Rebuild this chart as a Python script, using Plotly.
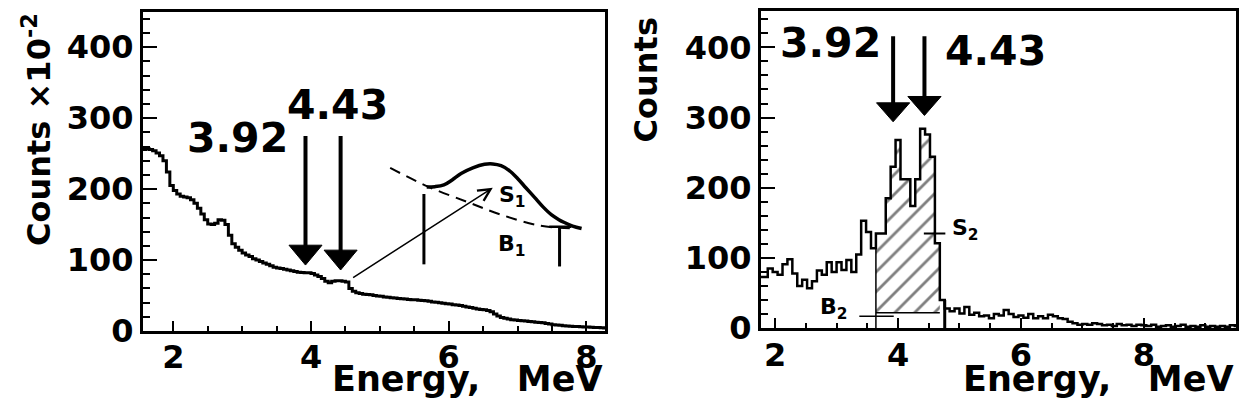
import numpy as np
import plotly.graph_objects as go

# ---------------- data ----------------
# Left panel: spectrum in units of 10^2 counts, bins of 0.05 MeV from 1.55 MeV
left_bin_start = 1.55
left_bin_width = 0.05
left_counts = [256, 257, 256, 254, 251, 247, 240, 224, 205, 198,
               193, 190, 189, 188, 185, 180, 173, 165, 157, 151,
               150, 152, 157, 156, 150, 135, 123, 118, 114, 110,
               107, 105, 102, 100, 98, 96, 94, 92, 90, 89,
               88, 87, 86, 85, 84, 83, 82.5, 82, 82, 81,
               79, 77, 74, 70, 68, 70, 71, 71, 70, 69,
               60, 56, 54, 53, 52, 51.5, 51, 50, 49.5, 49,
               48, 47.5, 47, 46.5, 46, 45.5, 45, 44.5, 44, 44,
               43.5, 43, 42.5, 42, 41, 40.5, 40, 39, 38.5, 38,
               37, 36.5, 36, 35, 34, 33, 32, 31, 30.5, 30,
               29, 27, 24, 21, 19, 18, 17, 16, 15.5, 15,
               14.5, 14, 13.5, 13, 12.5, 12, 11.5, 10.5, 10, 9,
               8.5, 8, 7.5, 7, 6.8, 6.5, 6.2, 6, 5.7, 5.5,
               5.2, 5, 4.8, 4.5, 4.2]

# Right panel: coincidence spectrum (counts), bins of 0.08 MeV from 1.72 MeV
right_bin_start = 1.72
right_bin_width = 0.08
right_counts = [73, 73, 85, 80, 76, 91, 98, 78, 60, 69,
                57, 67, 82, 76, 94, 80, 94, 83, 97, 80,
                105, 153, 137, 114, 135, 135, 185, 230, 268, 212,
                212, 174, 212, 284, 276, 244, 121, 40, 28, 24,
                28, 21, 30, 19, 22, 17, 18, 14, 20, 18,
                26, 20, 16, 18, 15, 20, 14, 17, 14, 19,
                17, 14, 13, 9, 7, 5, 6, 5, 7, 6,
                4, 5, 3, 6, 4, 5, 3, 5, 4, 3,
                5, 2, 3, 4, 2, 3, 5, 2, 3, 2,
                4, 2, 3, 2, 3, 2, 4, 3]

peak_energies = [3.92, 4.43]
peak_labels = ["3.92", "4.43"]

# inset sketch in left panel (peak S1 over background B1)
inset_peak_E = [5.68, 5.80, 5.93, 6.05, 6.18, 6.35, 6.52, 6.64, 6.76, 6.88,
                7.00, 7.12, 7.25, 7.37, 7.49, 7.60, 7.68, 7.80, 7.93]
inset_peak_counts = [203, 203.5, 206, 213, 222, 230, 235, 235.5, 233, 226,
                     215, 202, 188, 175, 164, 157, 153, 148, 144.6]
inset_bkg_E = [5.15, 5.69, 6.28, 6.76, 7.30, 7.78]
inset_bkg_counts = [230, 204, 181.6, 164, 149, 144.6]
s1_window = [5.64, 7.61]
s1_window_low = [94, 91]
s1_window_high = [193, 147]

# right panel S2/B2 window
s2_window = [3.64, 4.68]
s2_marker_end = 4.76
b2_level = 22
b2_marker = [3.37, 3.93, 17]
s2_marker = [4.42, 4.77, 135]

FONT = "DejaVu Sans"
W, H = 1247, 419              # browser window
OFF = 8                       # default margin of the html body
FW, FH = W - 2 * OFF, H - 2 * OFF   # figure fits the window without scrolling


def px_x(p):
    return (p - OFF) / FW


def px_y(p):
    return (FH - (p - OFF)) / FH


fig = go.Figure()


def steps(start, width, counts):
    edges = np.round(start + width * np.arange(len(counts) + 1), 4)
    ys = list(counts) + [counts[-1]]
    return edges, ys


def line(xa, ya, xs, ys, width, dash=None, shape="linear"):
    fig.add_trace(go.Scatter(x=xs, y=ys, mode="lines",
                             line=dict(color="black", width=width, dash=dash, shape=shape),
                             xaxis=xa, yaxis=ya, hoverinfo="skip"))


# ---- left histogram
le, ly = steps(left_bin_start, left_bin_width, left_counts)
line("x", "y", le, ly, 3, shape="hv")

# ---- right: hatched S2 region
re_, ry = steps(right_bin_start, right_bin_width, right_counts)
i0 = int(round((s2_window[0] - right_bin_start) / right_bin_width))
i1 = int(round((s2_window[1] - right_bin_start) / right_bin_width))
hx, hy = [s2_window[0]], [b2_level]
for i in range(i0, i1):
    hx += [re_[i], re_[i + 1]]
    hy += [right_counts[i], right_counts[i]]
hx += [s2_window[1], s2_window[0]]
hy += [b2_level, b2_level]
fig.add_trace(go.Scatter(x=hx, y=hy, mode="lines", fill="toself", line=dict(width=0, color="black"),
                         fillcolor="white",
                         fillpattern=dict(shape="/", size=14, solidity=0.2, fgcolor="black", bgcolor="white"),
                         xaxis="x2", yaxis="y2", hoverinfo="skip"))
line("x2", "y2", [s2_window[0], s2_window[1]], [b2_level, b2_level], 1.5)
line("x2", "y2", [s2_window[0], s2_window[0]], [0, right_counts[i0 - 1]], 1.5)
line("x2", "y2", [s2_marker_end, s2_marker_end], [0, right_counts[i1]], 3)
line("x2", "y2", b2_marker[:2], [b2_marker[2]] * 2, 1.5)
line("x2", "y2", s2_marker[:2], [s2_marker[2]] * 2, 2)
line("x2", "y2", re_, ry, 2.5, shape="hv")

# ---- inset sketch (left)
line("x", "y", inset_peak_E, inset_peak_counts, 3.5, shape="spline")
line("x", "y", inset_bkg_E, inset_bkg_counts, 2, dash="11px,7px", shape="spline")
for e, lo, hi in zip(s1_window, s1_window_low, s1_window_high):
    line("x", "y", [e, e], [lo, hi], 3)
line("x", "y", [s1_window[1] - 0.15, s1_window[1] + 0.17], [s1_window_high[1]] * 2, 2.5)


# ---- peak arrows
def arrow(xa, ya, e, top, tip, head_w, head_h, shaft_w):
    line(xa, ya, [e, e], [top, tip + head_h * 0.5], shaft_w)
    fig.add_trace(go.Scatter(x=[e - head_w / 2, e + head_w / 2, e, e - head_w / 2],
                             y=[tip + head_h, tip + head_h, tip, tip + head_h],
                             mode="lines", fill="toself", fillcolor="black", line=dict(color="black", width=1),
                             xaxis=xa, yaxis=ya, hoverinfo="skip"))


arrow("x", "y", peak_energies[0], 275, 93, 0.48, 28, 4)
arrow("x", "y", peak_energies[1], 275, 86, 0.48, 28, 4)
arrow("x2", "y2", peak_energies[0], 416, 294, 0.54, 27, 4)
arrow("x2", "y2", peak_energies[1], 416, 303, 0.54, 27, 4)

annotations = []
big = dict(family=FONT, size=41, color="black", weight="bold")
annotations += [
    dict(x=2.93, y=272, xref="x", yref="y", text=peak_labels[0], showarrow=False, font=big),
    dict(x=4.38, y=319, xref="x", yref="y", text=peak_labels[1], showarrow=False, font=big),
    dict(x=2.90, y=406, xref="x2", yref="y2", text=peak_labels[0], showarrow=False, font=big),
    dict(x=5.58, y=395, xref="x2", yref="y2", text=peak_labels[1], showarrow=False, font=big),
]
small = dict(family=FONT, size=22, color="black", weight="bold")
annotations += [
    dict(x=6.92, y=190, xref="x", yref="y", text="S<sub>1</sub>", showarrow=False, font=small),
    dict(x=6.92, y=121, xref="x", yref="y", text="B<sub>1</sub>", showarrow=False, font=small),
    dict(x=5.10, y=140, xref="x2", yref="y2", text="S<sub>2</sub>", showarrow=False, font=small),
    dict(x=2.96, y=28, xref="x2", yref="y2", text="B<sub>2</sub>", showarrow=False, font=small),
]
# thin arrow to inset
annotations.append(dict(x=6.64, y=202, ax=4.59, ay=74, xref="x", yref="y", axref="x", ayref="y",
                        text="", showarrow=True, arrowhead=5, arrowsize=1.6, arrowwidth=1.5, arrowcolor="black"))
# axis titles
tfont = dict(family=FONT, size=35, color="black", weight="bold")
yfont = dict(family=FONT, size=32, color="black", weight="bold")
annotations += [
    dict(x=px_x(604), y=px_y(397), xref="paper", yref="paper", xanchor="right", yanchor="middle",
         text="Energy,&nbsp;&nbsp;&nbsp;MeV", showarrow=False, font=tfont),
    dict(x=px_x(1235), y=px_y(397), xref="paper", yref="paper", xanchor="right", yanchor="middle",
         text="Energy,&nbsp;&nbsp;&nbsp;MeV", showarrow=False, font=tfont),
    dict(x=px_x(37), y=px_y(136), xref="paper", yref="paper", xanchor="center", yanchor="middle",
         text="Counts \u00d710<sup>-2</sup>", textangle=-90, showarrow=False, font=yfont),
    dict(x=px_x(646), y=px_y(84), xref="paper", yref="paper", xanchor="center", yanchor="middle",
         text="Counts", textangle=-90, showarrow=False, font=yfont),
]

tickfont = dict(family=FONT, size=32, color="black", weight="bold")
common_x = dict(showline=True, linewidth=3, linecolor="black", mirror=True, ticks="inside", ticklen=10,
                tickwidth=2, tickcolor="black", dtick=2, tick0=0, showgrid=False, zeroline=False,
                tickfont=tickfont,
                minor=dict(ticks="inside", ticklen=5, dtick=0.5, tickwidth=2, tickcolor="black", showgrid=False))
common_y = dict(showline=True, linewidth=3, linecolor="black", mirror=True, ticks="inside", ticklen=14,
                tickwidth=2, tickcolor="black", dtick=100, tick0=0, showgrid=False, zeroline=False,
                tickfont=tickfont,
                minor=dict(ticks="inside", ticklen=7, dtick=20, tickwidth=2, tickcolor="black", showgrid=False))

fig.update_layout(
    width=FW, height=FH, margin=dict(l=0, r=0, t=0, b=0),
    paper_bgcolor="white", plot_bgcolor="white", showlegend=False,
    xaxis=dict(domain=[px_x(143), px_x(605)], range=[1.56, 8.27], anchor="y", **common_x),
    yaxis=dict(domain=[px_y(347), px_y(12)], range=[0, 450], anchor="x", **common_y),
    xaxis2=dict(domain=[px_x(761), px_x(1236)], range=[1.77, 9.50], anchor="y2", **common_x),
    yaxis2=dict(domain=[px_y(344), px_y(11)], range=[0, 452], anchor="x2", **common_y),
    annotations=annotations,
)
try:
    fig.update_xaxes(ticklabelstandoff=-4)
except Exception:
    pass

fig.write_html("out.html")
